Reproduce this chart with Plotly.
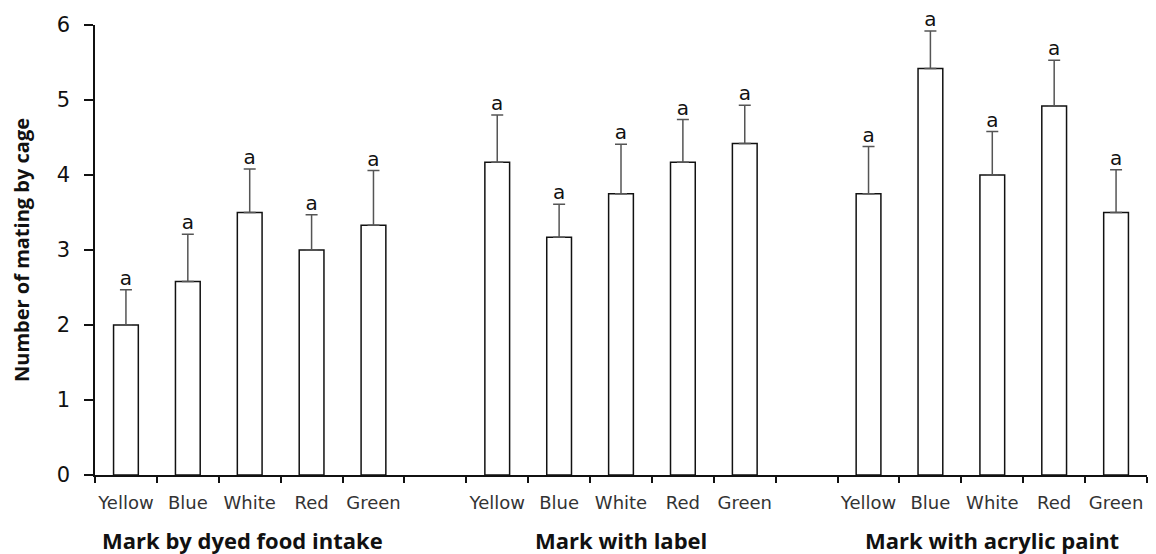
import plotly.graph_objects as go

groups = ["Mark by dyed food intake", "Mark with label", "Mark with acrylic paint"]
colors = ["Yellow", "Blue", "White", "Red", "Green"]
means = [
    [2.00, 2.58, 3.50, 3.00, 3.33],
    [4.17, 3.17, 3.75, 4.17, 4.42],
    [3.75, 5.42, 4.00, 4.92, 3.50],
]
err_plus = [
    [0.47, 0.63, 0.58, 0.47, 0.73],
    [0.63, 0.44, 0.66, 0.57, 0.51],
    [0.63, 0.50, 0.58, 0.61, 0.57],
]
letters = [
    ["a", "a", "a", "a", "a"],
    ["a", "a", "a", "a", "a"],
    ["a", "a", "a", "a", "a"],
]
y_ticks = [0, 1, 2, 3, 4, 5, 6]

slots_per_group = len(colors) + 1
n_slots = len(groups) * slots_per_group - 1

xs, ys, es, tops, txt, cat_labels = [], [], [], [], [], []
for g in range(len(groups)):
    for i, c in enumerate(colors):
        xc = g * slots_per_group + i + 0.5
        xs.append(xc)
        ys.append(means[g][i])
        es.append(err_plus[g][i])
        tops.append(means[g][i] + err_plus[g][i])
        txt.append(letters[g][i])
        cat_labels.append(c)

fig = go.Figure()
fig.add_trace(go.Bar(
    x=xs, y=ys, width=0.4,
    marker=dict(color="white", line=dict(color="#111111", width=1.5)),
    error_y=dict(type="data", array=es, symmetric=False, arrayminus=[0] * len(es),
                 color="#555555", thickness=1.5, width=6),
    showlegend=False, hoverinfo="skip",
))
fig.add_trace(go.Scatter(
    x=xs, y=tops, mode="text", text=txt, textposition="top center",
    textfont=dict(family="DejaVu Sans", size=20, color="#111111"),
    xaxis="x2", yaxis="y", showlegend=False, hoverinfo="skip", cliponaxis=False,
))

annotations = []
for g in range(len(groups)):
    annotations.append(dict(
        x=g * slots_per_group + len(colors) / 2, y=-0.145, xref="x", yref="paper",
        text="<b>%s</b>" % groups[g], showarrow=False, yanchor="middle",
        xshift=-7 if g == 0 else 0,
        font=dict(family="Open Sans", size=22, color="#111111"),
    ))

fig.update_layout(
    width=1156, height=554,
    margin=dict(l=95, r=9, t=25, b=79),
    paper_bgcolor="white", plot_bgcolor="white",
    hovermode=False,
    annotations=annotations,
    xaxis=dict(
        range=[0, n_slots], tickmode="array", tickvals=list(range(n_slots + 1)),
        ticktext=[""] * (n_slots + 1), ticks="outside", ticklen=6, tickcolor="#111111",
        tickwidth=1.5, showline=True, linecolor="#111111", linewidth=1.5,
        showgrid=False, zeroline=False, fixedrange=True,
    ),
    xaxis2=dict(
        range=[0, n_slots], overlaying="x", anchor="y", side="bottom",
        tickmode="array", tickvals=xs, ticktext=cat_labels, ticks="",
        showline=False, showgrid=False, zeroline=False, ticklabelstandoff=15,
        tickfont=dict(family="DejaVu Sans", size=18, color="#333333"),
    ),
    yaxis=dict(
        range=[0, 6], tickmode="array", tickvals=y_ticks, ticks="outside", ticklen=9,
        tickcolor="#111111", tickwidth=1.5, showline=True, linecolor="#111111", linewidth=1.5,
        showgrid=False, zeroline=False, ticklabelstandoff=10,
        tickfont=dict(family="DejaVu Sans", size=21, color="#111111"),
        title=dict(text="<b>Number of mating by cage</b>", standoff=22,
                   font=dict(family="Open Sans", size=20, color="#111111")),
    ),
)

# remove the page's default 8px body margin so the figure fills the window exactly
fig.write_html("out.html", config={"displayModeBar": False},
               post_script="document.body.style.margin='0px';")
